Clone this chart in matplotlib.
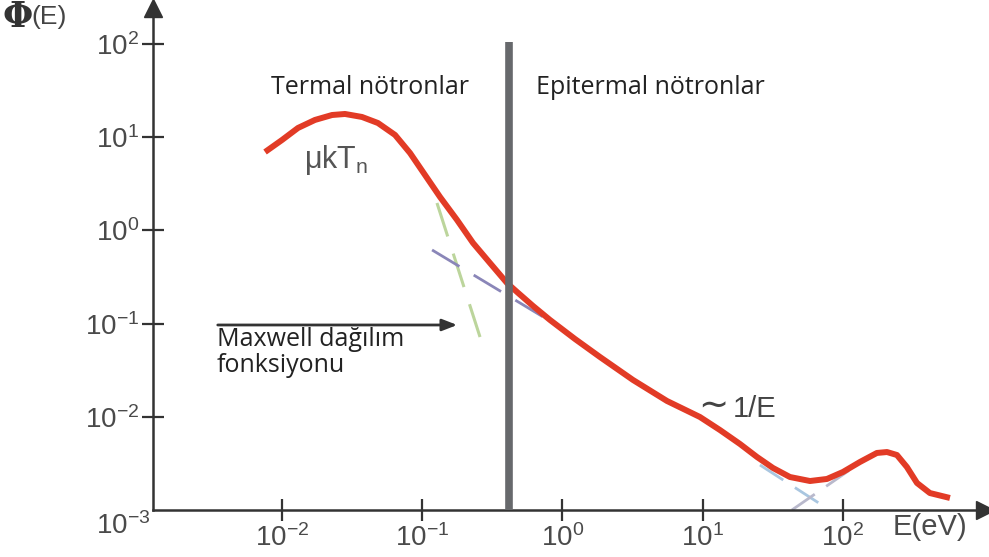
import numpy as np
import matplotlib.pyplot as plt

plt.rcParams['mathtext.fontset'] = 'custom'
plt.rcParams['mathtext.rm'] = 'Liberation Sans'
plt.rcParams['mathtext.it'] = 'Liberation Sans:italic'
plt.rcParams['mathtext.bf'] = 'Liberation Sans:bold'

# neutron flux spectrum (log10 E [eV], log10 phi)
spectrum_logE = [-2.121, -2.000, -1.886, -1.765, -1.643, -1.551, -1.430, -1.316,
                 -1.194, -1.087, -0.995, -0.873, -0.752, -0.638, -0.517, -0.396,
                 -0.324, -0.210, -0.089, 0.089, 0.267, 0.503, 0.745, 0.980,
                 1.123, 1.266, 1.387, 1.501, 1.622, 1.765, 1.886, 2.000, 2.121,
                 2.242, 2.314, 2.385, 2.456, 2.528, 2.620, 2.763]
spectrum_logphi = [0.841, 0.970, 1.099, 1.185, 1.238, 1.249, 1.217, 1.152,
                   1.024, 0.830, 0.627, 0.358, 0.112, -0.135, -0.350, -0.564,
                   -0.661, -0.811, -0.961, -1.165, -1.358, -1.605, -1.830, -2.002,
                   -2.142, -2.292, -2.431, -2.549, -2.646, -2.689, -2.667, -2.592,
                   -2.485, -2.388, -2.378, -2.410, -2.539, -2.710, -2.818, -2.871]

# dashed guide lines
maxwell_logE = [-0.895, -0.588]
maxwell_logphi = [0.294, -1.144]
inv_e_logE = [-0.930, -0.125]
inv_e_logphi = [-0.210, -0.940]
fall_logE = [1.408, 1.872]
fall_logphi = [-2.517, -2.968]
rise_logE = [1.636, 2.100]
rise_logphi = [-3.0, -2.517]

cutoff_logE = -0.38     # thermal / epithermal border
cutoff_top = 2.02
arrow_logE = [-2.478, -0.731]
arrow_logphi = -1.015

x_ticks = [-2, -1, 0, 1, 2]
y_ticks = [-2, -1, 0, 1, 2]

W, H = 989, 557
fig = plt.figure(figsize=(W / 100, H / 100), dpi=100)
ax = fig.add_axes([153 / W, (H - 510) / H, (985 - 153) / W, (510 - 8) / H])


def p10(v):
    return 10 ** np.asarray(v, dtype=float)


def px(x, y):
    return x / W, 1 - y / H


ax.set_xscale('log')
ax.set_yscale('log')
ax.set_xlim(p10(-2.920), p10(3.013))
ax.set_ylim(p10(-3), p10(2.386))

axis_col = '#333333'
for s in ['top', 'right']:
    ax.spines[s].set_visible(False)
for s in ['left', 'bottom']:
    ax.spines[s].set_color(axis_col)
    ax.spines[s].set_linewidth(1.8)

ax.plot([0], [1], marker='^', ms=13, color=axis_col, transform=ax.transAxes,
        clip_on=False, zorder=5)
ax.plot([1], [0], marker='>', ms=13, color=axis_col, transform=ax.transAxes,
        clip_on=False, zorder=5)

ax.minorticks_off()
ax.set_xticks(p10(x_ticks))
ax.set_yticks(p10(y_ticks))
ax.set_xticklabels(['$10^{%d}$' % t for t in x_ticks])
ax.set_yticklabels(['$10^{%d}$' % t for t in y_ticks])
ax.tick_params(direction='inout', length=16, width=1.6, color=axis_col,
               labelsize=20, labelcolor='#4a4a4a', pad=2)

# guides
ax.plot(p10(maxwell_logE), p10(maxwell_logphi), color='#bcd59c', lw=2.2,
        dashes=(11.5, 5.9))
ax.plot(p10(inv_e_logE), p10(inv_e_logphi), color='#8a86b8', lw=2.0,
        dashes=(11.5, 6))
ax.plot(p10(fall_logE), p10(fall_logphi), color='#a9c6e0', lw=2.0,
        dashes=(10, 5), clip_on=False)
ax.plot(p10(rise_logE), p10(rise_logphi), color='#b9b9cc', lw=2.0,
        dashes=(10, 5), clip_on=False)

ax.vlines(p10(cutoff_logE), p10(-3), p10(cutoff_top), color='#67696c', lw=5.5,
          zorder=4)

ax.plot(p10(spectrum_logE), p10(spectrum_logphi), color='#e23b26', lw=4.3,
        solid_capstyle='butt', solid_joinstyle='round', zorder=3)

ax.annotate('', xy=(p10(arrow_logE[1]), p10(arrow_logphi)),
            xytext=(p10(arrow_logE[0]), p10(arrow_logphi)),
            arrowprops=dict(arrowstyle='-|>,head_length=0.9,head_width=0.35',
                        color='#333333', lw=2))

# texts
txt = dict(family='Open Sans', color='#222222', va='center', ha='left')
fig.text(*px(271, 87), 'Termal nötronlar', fontsize=18, **txt)
fig.text(*px(536, 87), 'Epitermal nötronlar', fontsize=18, **txt)
fig.text(*px(217, 340), 'Maxwell dağılım', fontsize=18, **txt)
fig.text(*px(217, 365), 'fonksiyonu', fontsize=18, **txt)
fig.text(*px(304, 160), 'μkT$_\\mathregular{n}$', fontsize=22,
         family=['Liberation Sans', 'DejaVu Sans'], color='#555555',
         va='center', ha='left')
fig.text(*px(698, 407), '∼', fontsize=26,
         family=['DejaVu Sans'], color='#444444', va='center', ha='left')
fig.text(*px(733, 409), '1/E', fontsize=21,
         family=['Liberation Sans'], color='#444444', va='center', ha='left')
fig.text(*px(3, 17), 'Φ', fontsize=25, family='DejaVu Serif',
         fontweight='bold', color='#333333', va='center', ha='left')
fig.text(*px(31, 17), '(E)', fontsize=19, family='Liberation Sans',
         color='#444444', va='center', ha='left')
fig.text(*px(150, 526), '$10^{-3}$', fontsize=20, color='#4a4a4a',
         va='center', ha='right')
fig.text(*px(893, 527), 'E(eV)', fontsize=21, family='Liberation Sans',
         color='#4a4a4a', va='center', ha='left')

fig.savefig('out.png', dpi=100)
